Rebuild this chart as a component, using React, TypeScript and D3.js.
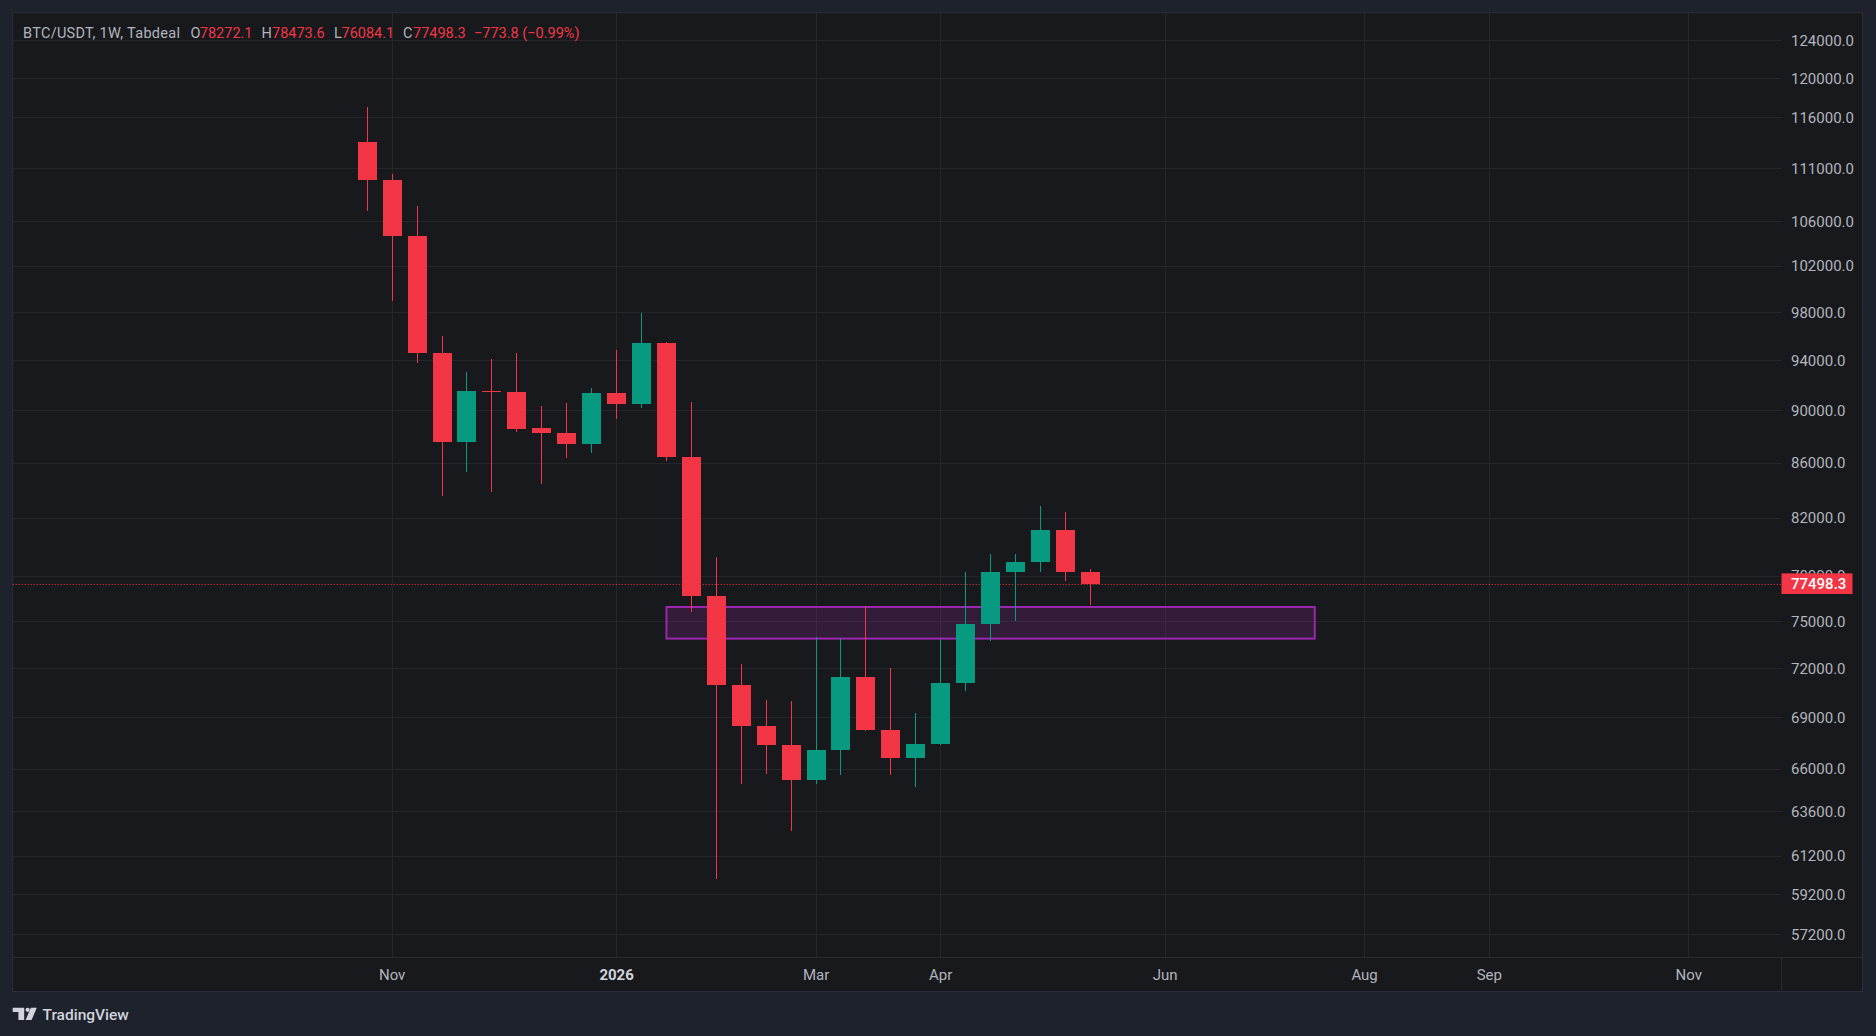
import { scaleLinear, scaleLog, utcParse, utcMonday } from "d3";

// weekly candles, BTC/USDT (Tabdeal)
const weeks = [
  "2025-10-27", "2025-11-03", "2025-11-10", "2025-11-17", "2025-11-24", "2025-12-01",
  "2025-12-08", "2025-12-15", "2025-12-22", "2025-12-29", "2026-01-05", "2026-01-12",
  "2026-01-19", "2026-01-26", "2026-02-02", "2026-02-09", "2026-02-16", "2026-02-23",
  "2026-03-02", "2026-03-09", "2026-03-16", "2026-03-23", "2026-03-30", "2026-04-06",
  "2026-04-13", "2026-04-20", "2026-04-27", "2026-05-04", "2026-05-11", "2026-05-18",
];
const opens = [
  113600, 109950, 104700, 94650, 87600, 91550, 91500, 88650, 88300, 87450,
  91400, 90550, 95450, 86500, 76700, 71000, 68500, 67400, 65400, 67100,
  71500, 68300, 66650, 67450, 71100, 74850, 78300, 78950, 81200, 78272.1,
];
const highs = [
  117100, 110500, 107500, 96000, 93100, 94100, 94600, 90400, 90600, 91800,
  94900, 97950, 95550, 90700, 79300, 72300, 70100, 70000, 74000, 73950,
  76000, 72050, 69300, 73850, 78300, 79500, 79500, 82900, 82450, 78473.6,
];
const lows = [
  107000, 99000, 93800, 83600, 85400, 83900, 88400, 84500, 86400, 86800,
  89400, 90250, 86200, 75650, 60000, 65150, 65700, 62550, 65150, 65650,
  68200, 65650, 65000, 67400, 70600, 73750, 75050, 78300, 77700, 76084.1,
];
const closes = [
  109900, 104700, 94650, 87600, 91550, 91500, 88600, 88300, 87450, 91400,
  90550, 95450, 86500, 76700, 71000, 68500, 67400, 65400, 67100, 71500,
  68300, 66650, 67450, 71100, 74850, 78300, 78950, 81200, 78272.1, 77498.3,
];

const priceTicks = [
  124000, 120000, 116000, 111000, 106000, 102000, 98000, 94000, 90000, 86000,
  82000, 78000, 75000, 72000, 69000, 66000, 63600, 61200, 59200, 57200,
];
const timeTicks = [
  { label: "Nov", week: "2025-11-03", bold: false },
  { label: "2026", week: "2026-01-05", bold: true },
  { label: "Mar", week: "2026-03-02", bold: false },
  { label: "Apr", week: "2026-04-06", bold: false },
  { label: "Jun", week: "2026-06-08", bold: false },
  { label: "Aug", week: "2026-08-03", bold: false },
  { label: "Sep", week: "2026-09-07", bold: false },
  { label: "Nov", week: "2026-11-02", bold: false },
];

// support zone drawn on the chart
const zoneWeeks = ["2026-01-19", "2026-07-20"];
const zonePrices = [75950, 73900];

const W = 1876;
const H = 1036;
const FONT = "Roboto, 'Noto Sans', sans-serif";
const UP = "#089981";
const DOWN = "#f23645";
const GRID = "#26272b";
const TEXT = "#b2b5be";

const panel = { left: 12.7, top: 12.7, right: 1862.5, bottom: 991.5 };
const plotRight = 1781.5;
const plotBottom = 957.3;

const parse = utcParse("%Y-%m-%d");
const first = parse(weeks[0])!;
const idx = (s: string) => utcMonday.count(first, parse(s)!);

const x = scaleLinear().domain([-14.22, 56.72]).range([panel.left, plotRight]);
const y = scaleLog().domain([56083, 127043]).range([plotBottom, panel.top]);

const fmt = (v: number) => v.toFixed(1);

function Logo() {
  const y0 = 1007.7;
  return (
    <g fill="#d1d4dc">
      <path d={`M12.7 ${y0} H24.2 V${y0 + 12.3} H18.4 V${y0 + 4.2} H12.7 Z`} />
      <circle cx={27.6} cy={y0 + 2.1} r={2.1} />
      <path d={`M30.8 ${y0} H36.8 L31.6 ${y0 + 12.3} H25.6 Z`} />
      <text x={42.5} y={y0 + 12.3} fontSize={15.5} fontWeight={500} fontFamily={FONT}>
        TradingView
      </text>
    </g>
  );
}

export default function App() {
  const last = closes.length - 1;
  const lastClose = closes[last];
  const change = lastClose - closes[last - 1];
  const zx0 = x(idx(zoneWeeks[0]));
  const zx1 = x(idx(zoneWeeks[1]));
  const zy0 = y(zonePrices[0]);
  const zy1 = y(zonePrices[1]);
  const lastY = Math.round(y(lastClose)) + 0.5;

  return (
    <svg
      width={W}
      height={H}
      viewBox={`0 0 ${W} ${H}`}
      style={{ position: "absolute", left: 0, top: 0, display: "block" }}
      fontFamily={FONT}
    >
      <rect width={W} height={H} fill="#1e222d" />
      <rect
        x={panel.left}
        y={panel.top}
        width={panel.right - panel.left}
        height={panel.bottom - panel.top}
        fill="#18191c"
        stroke="#2a2e39"
        strokeWidth={1}
      />

      {/* grid */}
      <g shapeRendering="crispEdges" stroke={GRID} strokeWidth={1}>
        {priceTicks.map((p) => (
          <line key={p} x1={panel.left} x2={plotRight} y1={y(p)} y2={y(p)} />
        ))}
        {timeTicks.map((t, i) => (
          <line key={i} x1={x(idx(t.week))} x2={x(idx(t.week))} y1={panel.top} y2={plotBottom} />
        ))}
      </g>

      {/* zone */}
      <rect
        x={zx0}
        y={zy0}
        width={zx1 - zx0}
        height={zy1 - zy0}
        fill="rgba(156, 39, 176, 0.2)"
        stroke="#9c27b0"
        strokeWidth={2}
      />

      {/* last price line */}
      <line
        x1={panel.left}
        x2={plotRight}
        y1={lastY}
        y2={lastY}
        stroke={DOWN}
        strokeWidth={1}
        strokeDasharray="1 2"
      />

      {/* candles */}
      <g shapeRendering="crispEdges">
        {weeks.map((w, i) => {
          const cx = x(idx(w));
          const left = Math.round(cx - 9.5);
          const color = closes[i] >= opens[i] ? UP : DOWN;
          const top = y(Math.max(opens[i], closes[i]));
          const bot = y(Math.min(opens[i], closes[i]));
          return (
            <g key={w} fill={color}>
              <rect x={left + 9} y={y(highs[i])} width={1} height={y(lows[i]) - y(highs[i])} />
              <rect x={left} y={top} width={19} height={Math.max(1.2, bot - top)} />
            </g>
          );
        })}
      </g>

      {/* price axis */}
      <g fontSize={15} fill={TEXT}>
        {priceTicks.map((p) => (
          <text key={p} x={1791} y={y(p)} dominantBaseline="central">
            {fmt(p)}
          </text>
        ))}
      </g>
      <rect x={plotRight} y={y(lastClose) - 10.3} width={71} height={20.6} fill={DOWN} />
      <text
        x={1791}
        y={y(lastClose)}
        dominantBaseline="central"
        fontSize={15}
        fontWeight={500}
        fill="#ffffff"
      >
        {fmt(lastClose)}
      </text>

      {/* time axis */}
      <g shapeRendering="crispEdges" stroke="#2a2b30">
        <line x1={panel.left} x2={panel.right} y1={plotBottom} y2={plotBottom} />
        <line x1={plotRight} x2={plotRight} y1={plotBottom} y2={panel.bottom} />
      </g>
      <g fontSize={15} fill={TEXT} textAnchor="middle">
        {timeTicks.map((t, i) => (
          <text
            key={i}
            x={x(idx(t.week))}
            y={975}
            dominantBaseline="central"
            fontWeight={t.bold ? 700 : 400}
            fill={t.bold ? "#d1d4dc" : TEXT}
          >
            {t.label}
          </text>
        ))}
      </g>

      {/* legend */}
      <text y={33.3} dominantBaseline="central" fontSize={14.5} fill={TEXT}>
        <tspan x={23} textLength={157} lengthAdjust="spacing">BTC/USDT, 1W, Tabdeal</tspan>
        <tspan x={190.5}>O</tspan>
        <tspan x={199.8} fill={DOWN}>{fmt(opens[last])}</tspan>
        <tspan x={261.5}>H</tspan>
        <tspan x={272} fill={DOWN}>{fmt(highs[last])}</tspan>
        <tspan x={334}>L</tspan>
        <tspan x={341.5} fill={DOWN}>{fmt(lows[last])}</tspan>
        <tspan x={403}>C</tspan>
        <tspan x={413} fill={DOWN}>{fmt(lastClose)}</tspan>
        <tspan x={474} fill={DOWN}>
          {`\u2212${fmt(Math.abs(change))} (\u2212${((Math.abs(change) / closes[last - 1]) * 100).toFixed(2)}%)`}
        </tspan>
      </text>

      <Logo />
    </svg>
  );
}
